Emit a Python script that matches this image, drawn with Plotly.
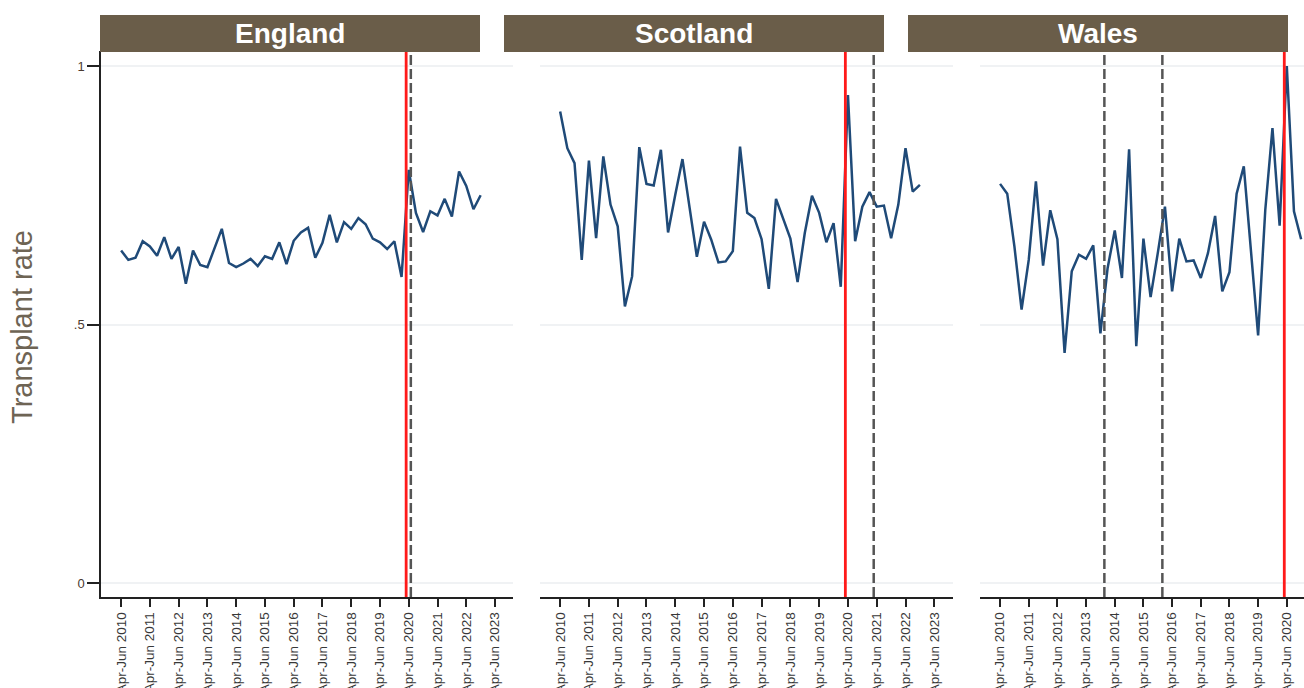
import plotly.graph_objects as go

# Quarter index 0 = Apr-Jun 2010
tick_years = list(range(2010, 2024))
tick_labels = [f"Apr-Jun {y}" for y in tick_years]
tick_vals = [4 * (y - 2010) for y in tick_years]

england = [0.643, 0.625, 0.629, 0.661, 0.651, 0.633, 0.669, 0.627, 0.650, 0.579,
           0.643, 0.615, 0.611, 0.650, 0.685, 0.619, 0.611, 0.618, 0.627, 0.613,
           0.632, 0.627, 0.659, 0.617, 0.662, 0.678, 0.687, 0.629, 0.658, 0.712,
           0.659, 0.698, 0.685, 0.706, 0.694, 0.666, 0.659, 0.646, 0.661, 0.592,
           0.799, 0.716, 0.679, 0.719, 0.711, 0.743, 0.709, 0.796, 0.768, 0.723,
           0.750]

scotland = [0.912, 0.841, 0.812, 0.625, 0.817, 0.667, 0.825, 0.732, 0.690, 0.535,
            0.593, 0.843, 0.772, 0.769, 0.838, 0.678, 0.751, 0.820, 0.725, 0.631,
            0.699, 0.664, 0.620, 0.622, 0.642, 0.844, 0.716, 0.706, 0.665, 0.569,
            0.743, 0.703, 0.666, 0.582, 0.677, 0.749, 0.716, 0.659, 0.696, 0.573,
            0.944, 0.661, 0.728, 0.756, 0.728, 0.730, 0.667, 0.732, 0.841, 0.757,
            0.770]

wales = [0.772, 0.753, 0.651, 0.529, 0.625, 0.777, 0.614, 0.721, 0.665, 0.445,
         0.603, 0.635, 0.627, 0.653, 0.483, 0.609, 0.682, 0.590, 0.839, 0.458,
         0.666, 0.553, 0.638, 0.728, 0.564, 0.666, 0.622, 0.624, 0.590, 0.638,
         0.710, 0.564, 0.601, 0.753, 0.806, 0.642, 0.479, 0.722, 0.880, 0.691,
         1.000, 0.719, 0.665]

# Event markers (quarter index): pandemic onset (red) and policy changes (dashed)
covid_line = {"England": 39.64, "Scotland": 39.64, "Wales": 39.65}
policy_lines = {"England": [40.29], "Scotland": [43.58], "Wales": [14.55, 22.64]}

nations = ["England", "Scotland", "Wales"]
series = {"England": england, "Scotland": scotland, "Wales": wales}

W, H = 1304, 688
x_domains = {"England": (101, 513), "Scotland": (540, 953), "Wales": (980, 1304)}
x_ranges = {"England": [-2.8, 54.5], "Scotland": [-2.8, 54.6], "Wales": [-2.8, 42.4]}
header_px = {"England": (100, 480), "Scotland": (504, 884), "Wales": (908, 1288)}
y_dom = [1 - 597 / H, 1 - 51 / H]

LINE_BLUE = "#1f4a78"
HEADER = "#6a5d49"
TICK_FONT = dict(family="Liberation Sans Narrow, Arial Narrow, Liberation Sans, Arial",
                 size=13.5, color="#383838")

fig = go.Figure()
shapes = []
annotations = []

for i, nation in enumerate(nations):
    n = "" if i == 0 else str(i + 1)
    vals = series[nation]
    fig.add_trace(go.Scatter(
        x=list(range(len(vals))), y=vals, mode="lines",
        line=dict(color=LINE_BLUE, width=2.5),
        xaxis="x" + n, yaxis="y" + n, showlegend=False, hoverinfo="skip"))

    x0, x1 = x_domains[nation]
    fig.update_layout(**{
        "xaxis" + n: dict(
            domain=[x0 / W, x1 / W], range=x_ranges[nation], anchor="y" + n,
            tickmode="array", tickvals=tick_vals, ticktext=tick_labels,
            tickangle=-90, ticks="outside", ticklen=8, tickwidth=2, tickcolor="#222",
            showline=True, linecolor="#222", linewidth=1.5, showgrid=False,
            zeroline=False, tickfont=TICK_FONT, automargin=False),
        "yaxis" + n: dict(
            domain=y_dom, range=[-0.027, 1.029], anchor="x" + n,
            tickmode="array", tickvals=[0, 0.5, 1],
            ticktext=["0", ".5", "1"] if i == 0 else ["", "", ""],
            ticks="outside" if i == 0 else "", ticklen=12, tickwidth=1.5, tickcolor="#222",
            showline=(i == 0), linecolor="#222", linewidth=1.5,
            showgrid=True, gridcolor="#f0f2f4", gridwidth=1.5,
            zeroline=False, tickfont=dict(family="Liberation Sans, Arial", size=13,
                                          color="#4a3a30"),
            automargin=False),
    })

    xr = "x" + n
    # red vertical line for the pandemic onset
    shapes.append(dict(type="line", xref=xr, yref="y" + n + " domain",
                       x0=covid_line[nation], x1=covid_line[nation], y0=0, y1=1,
                       line=dict(color="#ff1a1a", width=2.8)))
    for px in policy_lines[nation]:
        shapes.append(dict(type="line", xref=xr, yref="y" + n + " domain",
                           x0=px, x1=px, y0=0, y1=1,
                           line=dict(color="#555555", width=2.5, dash="10px,4px")))

    # panel header bar
    h0, h1 = header_px[nation]
    shapes.append(dict(type="rect", xref="paper", yref="paper",
                       x0=h0 / W, x1=h1 / W, y0=1 - 52 / H, y1=1 - 15 / H,
                       fillcolor=HEADER, line=dict(width=0), layer="above"))
    annotations.append(dict(xref="paper", yref="paper",
                            x=(h0 + h1) / 2 / W, y=1 - 33.5 / H,
                            text=f"<b>{nation}</b>", showarrow=False,
                            xanchor="center", yanchor="middle",
                            font=dict(family="Liberation Sans, Arial", size=28,
                                      color="white")))

annotations.append(dict(xref="paper", yref="paper", x=22 / W, y=1 - 327 / H,
                        text="Transplant rate", textangle=-90, showarrow=False,
                        xanchor="center", yanchor="middle",
                        font=dict(family="Liberation Sans, Arial", size=29,
                                  color="#6e6454")))

fig.update_layout(width=W, height=H, margin=dict(l=0, r=0, t=0, b=0),
                  paper_bgcolor="white", plot_bgcolor="white",
                  shapes=shapes, annotations=annotations)

fig.write_html("out.html")
